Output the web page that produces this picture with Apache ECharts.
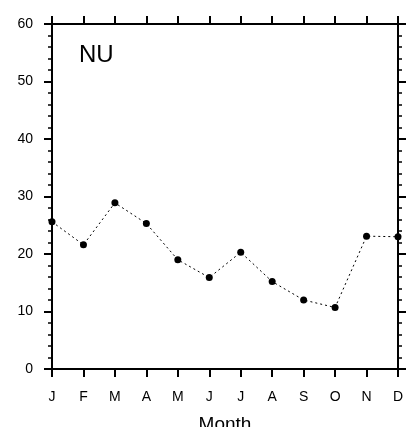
<!DOCTYPE html>
<html>
<head>
<meta charset="utf-8">
<script src="https://cdn.jsdelivr.net/npm/echarts@6/dist/echarts.min.js"></script>
<style>
html,body{margin:0;padding:0;background:#fff;overflow:hidden;}
#c{width:408px;height:427px;}
</style>
</head>
<body>
<div id="c"></div>
<script>
var months = ['J','F','M','A','M','J','J','A','S','O','N','D'];
var values = [25.6, 21.6, 28.9, 25.3, 19.0, 15.9, 20.3, 15.2, 12.0, 10.7, 23.1, 23.0];
var yTicks = [0, 10, 20, 30, 40, 50, 60];
var titleText = 'NU';
var xName = 'Month';

var FONT = 'Liberation Sans';
var chart = echarts.init(document.getElementById('c'), null, {renderer: 'canvas'});
var axisLine = {show: true, onZero: false, lineStyle: {color: '#000', width: 2}};
var option = {
  animation: false,
  backgroundColor: '#fff',
  title: {
    text: titleText, left: 74, top: 38,
    textStyle: {fontFamily: FONT, fontSize: 24, fontWeight: 'normal', color: '#000'}
  },
  grid: {left: 52, top: 24, width: 346, height: 345, containLabel: false, outerBoundsMode: 'none'},
  xAxis: [{
    type: 'category', data: months, boundaryGap: false, position: 'bottom',
    name: xName, nameLocation: 'middle', nameGap: 46,
    nameTextStyle: {fontFamily: FONT, fontSize: 19, color: '#000'},
    axisLine: axisLine,
    axisTick: {show: true, length: 8, inside: false, lineStyle: {color: '#000', width: 2}},
    axisLabel: {fontFamily: FONT, fontSize: 14, color: '#000', margin: 21, interval: 0},
    splitLine: {show: false}
  }, {
    type: 'category', data: months, boundaryGap: false, position: 'top',
    axisLine: axisLine,
    axisTick: {show: true, length: 8, inside: false, lineStyle: {color: '#000', width: 2}},
    axisLabel: {show: false},
    splitLine: {show: false}
  }],
  yAxis: [{
    type: 'value', min: yTicks[0], max: yTicks[yTicks.length - 1], interval: 10, position: 'left',
    axisLine: axisLine,
    axisTick: {show: true, length: 8, lineStyle: {color: '#000', width: 2}},
    minorTick: {show: true, splitNumber: 5, length: 4, lineStyle: {color: '#000', width: 1.5}},
    axisLabel: {fontFamily: FONT, fontSize: 14, color: '#000', margin: 19},
    splitLine: {show: false}
  }, {
    type: 'value', min: yTicks[0], max: yTicks[yTicks.length - 1], interval: 10, position: 'right',
    axisLine: axisLine,
    axisTick: {show: true, length: 8, lineStyle: {color: '#000', width: 2}},
    minorTick: {show: true, splitNumber: 5, length: 4, lineStyle: {color: '#000', width: 1.5}},
    axisLabel: {show: false},
    splitLine: {show: false}
  }],
  series: [{
    type: 'line', data: values, xAxisIndex: 0, yAxisIndex: 0,
    symbol: 'circle', symbolSize: 7,
    itemStyle: {color: '#000'},
    lineStyle: {color: '#000', width: 1, type: [2, 3]},
    clip: false
  }]
};
chart.setOption(option);
</script>
</body>
</html>
